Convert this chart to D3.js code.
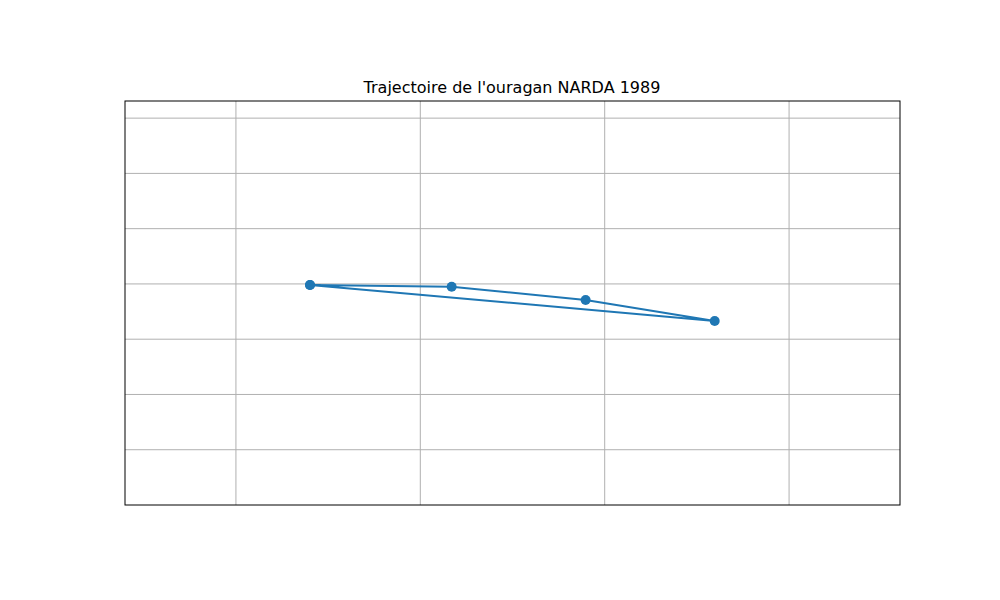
<!DOCTYPE html>
<html><head><meta charset="utf-8">
<script src="https://cdn.jsdelivr.net/npm/d3@7"></script>
<style>body{margin:0;background:#fff}</style>
</head><body>
<svg width="1000" height="600"></svg>
<script>
// track points (lon, lat) in drawing order
var lons = [-95.9, -49.8, -6.2, 35.8, -95.9];
var lats = [-0.2, -0.5, -2.9, -6.7, -0.2];
var xTicks = [-120, -60, 0, 60];
var yTicks = [30, 20, 10, 0, -10, -20, -30];

var svg = d3.select("svg");
var x = d3.scaleLinear().domain([-156.1, 96.1]).range([125, 900]);
var y = d3.scaleLinear().domain([33.1, -40]).range([101, 505]);

svg.selectAll(".gx").data(xTicks).enter().append("line")
  .attr("x1", d => x(d)).attr("x2", d => x(d)).attr("y1", 101).attr("y2", 505)
  .attr("stroke", "#b0b0b0").attr("stroke-width", 1);
svg.selectAll(".gy").data(yTicks).enter().append("line")
  .attr("y1", d => y(d)).attr("y2", d => y(d)).attr("x1", 125).attr("x2", 900)
  .attr("stroke", "#b0b0b0").attr("stroke-width", 1);

var pts = lons.map((d, i) => [d, lats[i]]);
svg.append("path")
  .attr("d", d3.line().x(d => x(d[0])).y(d => y(d[1]))(pts))
  .attr("fill", "none").attr("stroke", "#1f77b4").attr("stroke-width", 2);
svg.selectAll("circle").data(pts).enter().append("circle")
  .attr("cx", d => x(d[0])).attr("cy", d => y(d[1])).attr("r", 5)
  .attr("fill", "#1f77b4");

svg.append("rect").attr("x", 125).attr("y", 101).attr("width", 775).attr("height", 404)
  .attr("fill", "none").attr("stroke", "#000").attr("stroke-width", 1);

svg.append("text")
.attr("text-anchor", "middle")
.attr("x", 512).attr("y", 93)
.attr("font-family", "DejaVu Sans").attr("font-size", 16)
.text("Trajectoire de l'ouragan NARDA 1989");
</script>
</body></html>
